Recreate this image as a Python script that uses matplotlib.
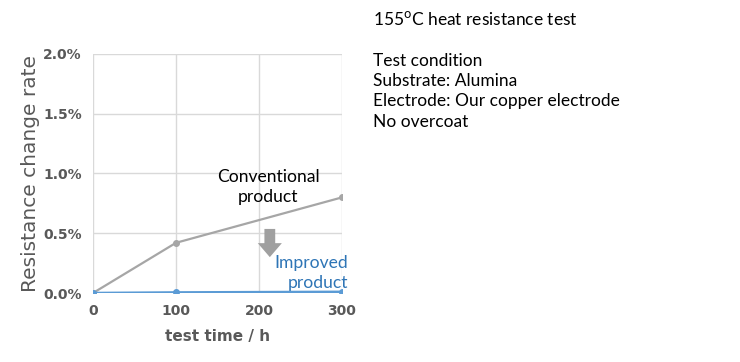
import matplotlib.pyplot as plt
from matplotlib.patches import FancyArrow
from matplotlib.ticker import FuncFormatter

hours = [0, 100, 300]
conventional = [0.0, 0.42, 0.80]
improved = [0.0, 0.005, 0.01]
yticks = [0.0, 0.5, 1.0, 1.5, 2.0]
xticks = [0, 100, 200, 300]

fig = plt.figure(figsize=(7.4, 3.62), dpi=100)
ax = fig.add_axes([0.1257, 0.1906, 0.3365, 0.6604])

ax.plot(hours, conventional, color='#a6a6a6', lw=1.6, marker='o', ms=4, zorder=3)
ax.plot(hours, improved, color='#5b9bd5', lw=1.8, marker='o', ms=4, zorder=4)

ax.set_xlim(0, 300)
ax.set_ylim(0, 2.0)
ax.set_xticks(xticks)
ax.set_yticks(yticks)
ax.yaxis.set_major_formatter(FuncFormatter(lambda v, p: f'{v:.1f}%'))
ax.grid(True, color='#d9d9d9', lw=1)
ax.set_axisbelow(True)
for s in ax.spines.values():
    s.set_visible(False)
ax.tick_params(length=0, colors='#595959', labelsize=10, pad=8)
for lab in ax.get_xticklabels() + ax.get_yticklabels():
    lab.set_fontweight('bold')

ax.set_xlabel('test time / h', color='#595959', fontsize=11, fontweight='bold', labelpad=8)
ax.set_ylabel('Resistance change rate', color='#595959', fontsize=14.5,
              fontweight='medium', labelpad=2)

ax.text(211, 0.89, 'Conventional\nproduct', ha='center', va='center', fontsize=12.6,
        family='Lato', linespacing=1.3)
ax.text(307, 0.17, 'Improved\nproduct', ha='right', va='center', fontsize=12.6,
        family='Lato', color='#2e75b6', linespacing=1.3, clip_on=False)
ax.add_patch(FancyArrow(213, 0.536, 0, -0.236, width=13, head_width=29, head_length=0.117,
                        length_includes_head=True, color='#a0a0a0', lw=0, zorder=5))

info = ('155$^{\\mathrm{o}}$C heat resistance test\n\n'
        'Test condition\nSubstrate: Alumina\nElectrode: Our copper electrode\nNo overcoat')
fig.text(0.504, 0.972, info, ha='left', va='top', fontsize=12.5, family='Lato', linespacing=1.33)

fig.savefig('out.png', dpi=100)
